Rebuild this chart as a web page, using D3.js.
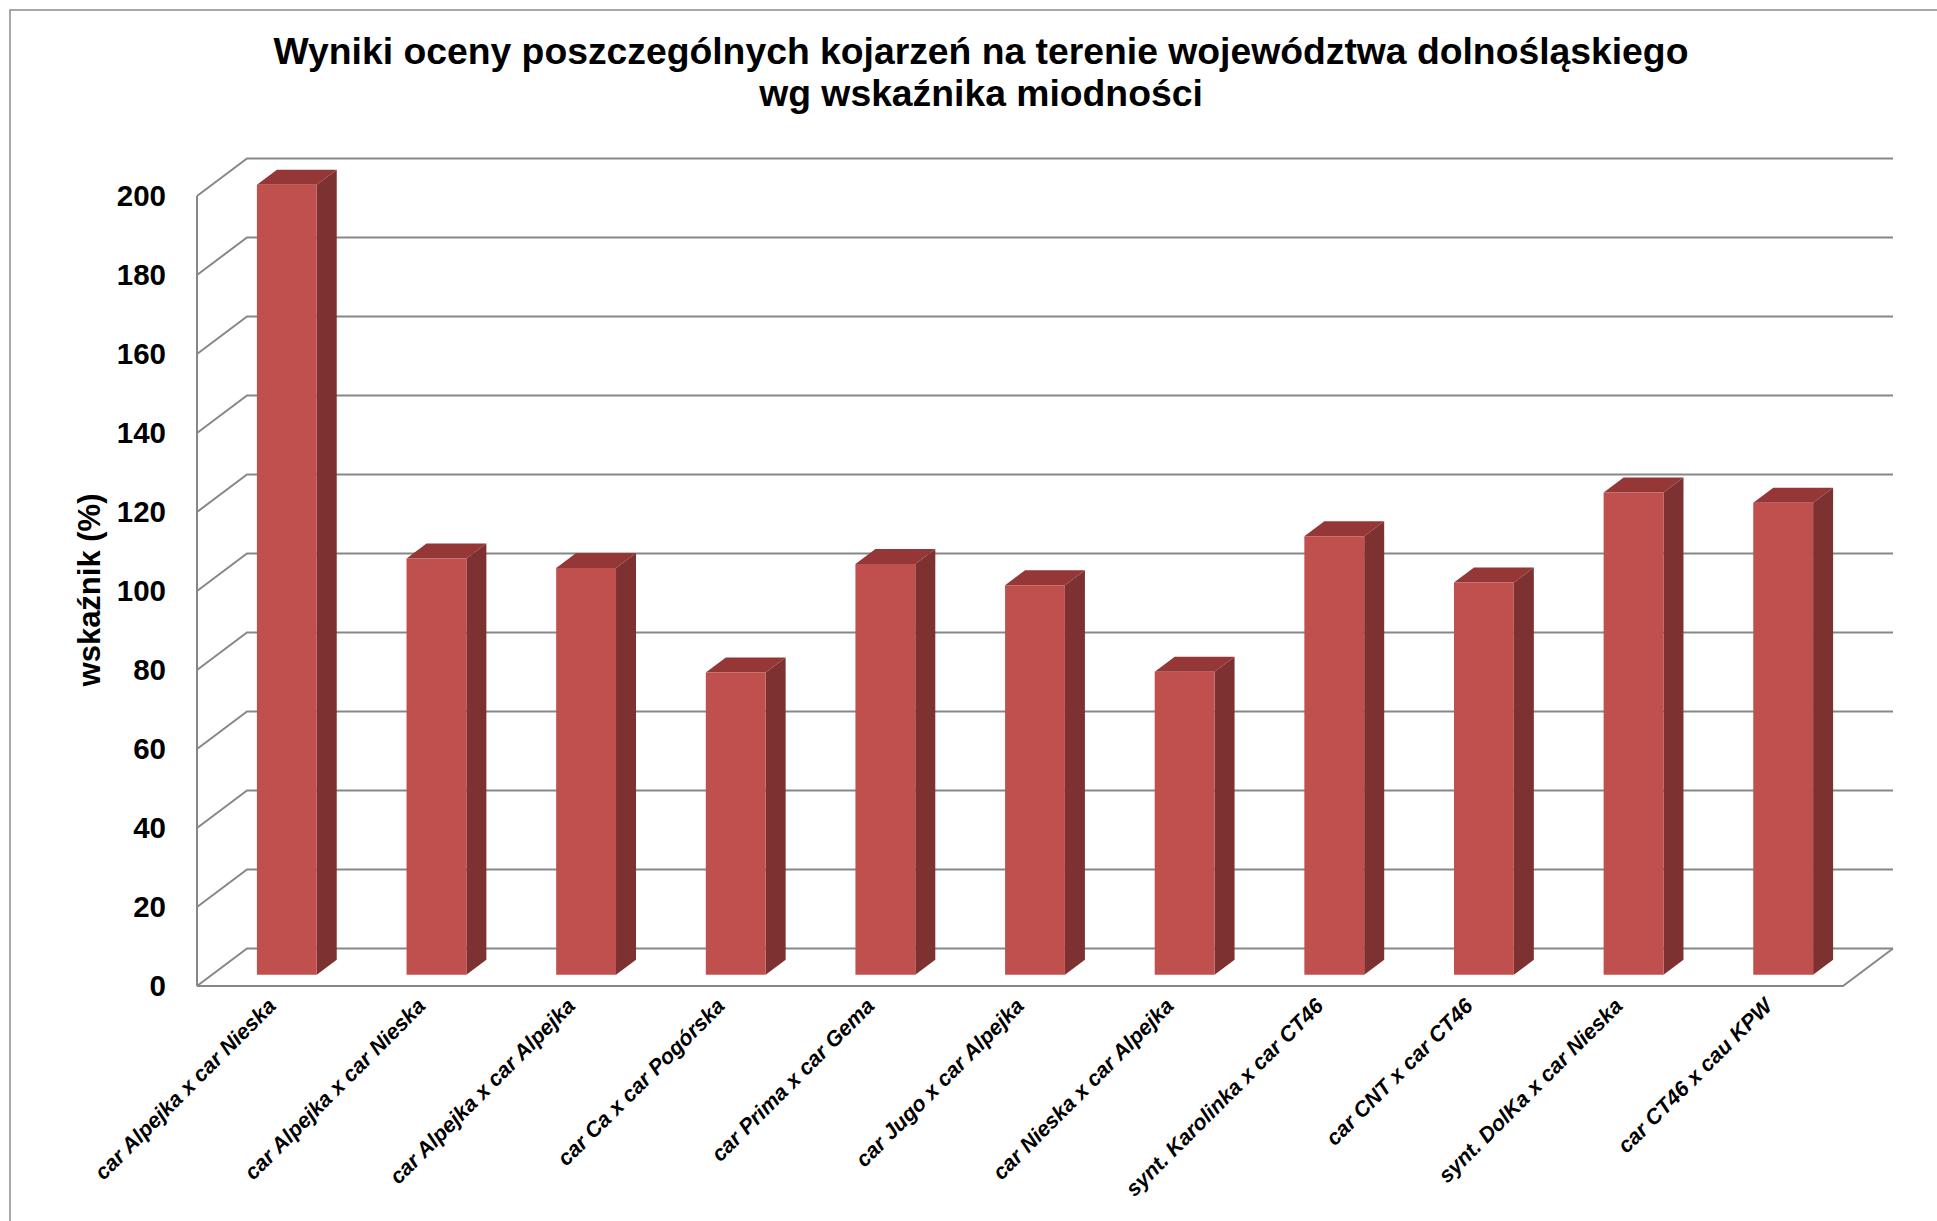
<!DOCTYPE html>
<html>
<head>
<meta charset="utf-8">
<script src="https://cdn.jsdelivr.net/npm/d3@7"></script>
<style>
  body { margin: 0; background: #fff; }
  svg text { font-family: "Liberation Sans", Arial, sans-serif; fill: #000; }
</style>
</head>
<body>
<div id="chart"></div>
<script>
const categories = [
  'car Alpejka x car Nieska',
  'car Alpejka x car Nieska',
  'car Alpejka x car Alpejka',
  'car Ca x car Pogórska',
  'car Prima x car Gema',
  'car Jugo x car Alpejka',
  'car Nieska x car Alpejka',
  'synt. Karolinka x car CT46',
  'car CNT x car CT46',
  'synt. DolKa x car Nieska',
  'car CT46 x cau KPW'
];
const values = [200, 105.4, 103, 76.5, 104, 98.6, 76.7, 111, 99.3, 122.1, 119.5];
const yTicks = [0, 20, 40, 60, 80, 100, 120, 140, 160, 180, 200];
const titleLines = [
  'Wyniki oceny poszczególnych kojarzeń na terenie województwa dolnośląskiego',
  'wg wskaźnika miodności'
];
const yTitle = 'wskaźnik (%)';

const width = 1937, height = 1221;
// front-left corner of the floor and the 3D depth offset
const x0 = 197, y0 = 986;
const plotW = 1646, plotH = 790;
const depthX = 50, depthY = 37.5;

const svg = d3.select('#chart').append('svg')
  .attr('width', width)
  .attr('height', height);

// outer chart border
svg.append('rect')
  .attr('x', 10).attr('y', 10)
  .attr('width', width).attr('height', height)
  .attr('fill', 'none')
  .attr('stroke', '#8c8c8c')
  .attr('stroke-width', 1.5);

const x = d3.scaleBand()
  .domain(d3.range(categories.length))
  .range([0, plotW])
  .paddingInner(0.6)
  .paddingOuter(0.3);

const y = d3.scaleLinear().domain([0, 200]).range([0, plotH]);

// project a point (px along x, value v, depth fraction f) to screen
const P = (px, v, f) => [x0 + px + f * depthX, y0 - y(v) - f * depthY];
const pts = arr => arr.map(p => p.join(',')).join(' ');

const grid = svg.append('g')
  .attr('fill', 'none')
  .attr('stroke', '#878787')
  .attr('stroke-width', 2);

// back wall and left wall gridlines
yTicks.forEach(t => {
  const a = P(0, t, 0), b = P(0, t, 1), c = P(plotW, t, 1);
  grid.append('polyline').attr('points', pts([a, b, c]));
});
// left wall front edge
grid.append('line')
  .attr('x1', x0).attr('x2', x0)
  .attr('y1', y0 - y(200)).attr('y2', y0);
// floor front and right edges
grid.append('polyline')
  .attr('points', pts([P(0, 0, 0), P(plotW, 0, 0), P(plotW, 0, 1)]));

// bars
const fBar0 = 0.3, fBar1 = 0.7;
const bars = svg.append('g').selectAll('g')
  .data(values)
  .join('g');

bars.append('polygon') // side
  .attr('fill', '#7d3130')
  .attr('points', (d, i) => {
    const r = x(i) + x.bandwidth();
    return pts([P(r, 0, fBar0), P(r, 0, fBar1), P(r, d, fBar1), P(r, d, fBar0)]);
  });

bars.append('polygon') // top
  .attr('fill', '#943736')
  .attr('points', (d, i) => {
    const l = x(i), r = x(i) + x.bandwidth();
    return pts([P(l, d, fBar0), P(r, d, fBar0), P(r, d, fBar1), P(l, d, fBar1)]);
  });

bars.append('polygon') // front
  .attr('fill', '#c0504d')
  .attr('points', (d, i) => {
    const l = x(i), r = x(i) + x.bandwidth();
    return pts([P(l, 0, fBar0), P(r, 0, fBar0), P(r, d, fBar0), P(l, d, fBar0)]);
  });

// y axis labels on the front plane
const yFront = d3.scaleLinear().domain([0, 200]).range([y0, y0 - plotH]);
svg.append('g')
  .attr('transform', `translate(${x0},0)`)
  .call(d3.axisLeft(yFront).tickValues(yTicks).tickSize(0).tickPadding(31))
  .call(g => g.select('.domain').remove())
  .selectAll('text')
  .style('font-family', '"Liberation Sans", Arial, sans-serif')
  .style('font-size', '29.5px')
  .style('font-weight', 'bold')
  .attr('fill', '#000');

// y axis title
svg.append('text')
  .attr('transform', 'translate(89,590) rotate(-90)')
  .attr('text-anchor', 'middle')
  .attr('dominant-baseline', 'central')
  .style('font-size', '31px')
  .style('font-weight', 'bold')
  .text(yTitle);

// category labels, rotated
svg.append('g').selectAll('text')
  .data(categories)
  .join('text')
  .attr('transform', (d, i) => `translate(${x0 + x(i) + x.bandwidth() / 2},${y0 + 16}) rotate(-45)`)
  .attr('text-anchor', 'end')
  .attr('dy', '0.35em')
  .style('font-size', '21.5px')
  .style('font-weight', 'bold')
  .style('font-style', 'italic')
  .text(d => d);

// title
svg.append('g').selectAll('text')
  .data(titleLines)
  .join('text')
  .attr('x', 981)
  .attr('y', (d, i) => 64 + i * 42)
  .attr('text-anchor', 'middle')
  .style('font-size', '37.3px')
  .style('font-weight', 'bold')
  .text(d => d);
</script>
</body>
</html>
